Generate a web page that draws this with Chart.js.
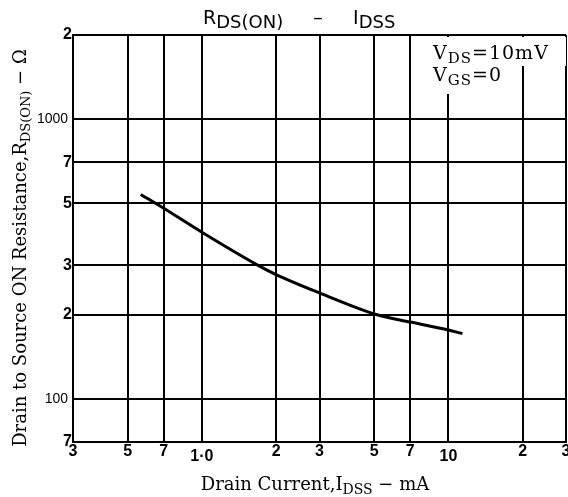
<!DOCTYPE html>
<html>
<head>
<meta charset="utf-8">
<script src="https://cdn.jsdelivr.net/npm/chart.js@4/dist/chart.umd.min.js"></script>
<style>
  html, body { margin: 0; padding: 0; background: #fff; }
  canvas { display: block; }
</style>
</head>
<body>
<canvas id="chart" width="568" height="497"></canvas>
<script>
// curve: drain current (mA) vs R_DS(ON) (ohm)
const currentMA = [0.565, 0.7, 1.0, 1.69, 2, 3, 5.1, 7, 10, 11.4];
const resistance = [538, 480, 394, 300, 278, 239, 200, 188, 176, 171];

// axis ticks as printed on the sheet
const xTickValues = [0.3, 0.5, 0.7, 1, 2, 3, 5, 7, 10, 20, 30];
const xTickLabels = ['3', '5', '7', '1·0', '2', '3', '5', '7', '10', '2', '3'];
const yTickValues = [70, 100, 200, 300, 500, 700, 1000, 2000];
const yTickLabels = ['7', '100 ', '2', '3', '5', '7', '1000 ', '2'];

// draw a line of text with subscript pieces, returns its width
function richWidth(ctx, parts, size, subSize, family) {
    let w = 0;
    parts.forEach((p) => {
        ctx.font = (p.sub ? subSize : size) + 'px ' + family;
        w += ctx.measureText(p.t).width;
    });
    return w;
}

function drawRich(ctx, parts, x, y, size, subSize, subDrop, family) {
    ctx.textAlign = 'left';
    ctx.textBaseline = 'alphabetic';
    parts.forEach((p) => {
        ctx.font = (p.sub ? subSize : size) + 'px ' + family;
        ctx.fillText(p.t, x, p.sub ? y + subDrop : y);
        x += ctx.measureText(p.t).width;
    });
}

const textPlugin = {
    id: 'sheetText',
    afterDraw(chart) {
        const ctx = chart.ctx;
        ctx.save();
        ctx.fillStyle = '#000';

        // title
        const title = [{t: 'R'}, {t: 'DS(ON)', sub: true}, {t: '     –     '}, {t: 'I'}, {t: 'DSS', sub: true}];
        drawRich(ctx, title, 203, 24, 19, 18, 4, '"DejaVu Sans"');

        // x axis title
        const xTitle = [{t: 'Drain Current,I'}, {t: 'DSS', sub: true}, {t: ' − mA'}];
        const xw = richWidth(ctx, xTitle, 18, 14, '"DejaVu Serif"');
        drawRich(ctx, xTitle, 315 - xw / 2, 490, 18, 14, 4, '"DejaVu Serif"');

        // y axis title
        const yTitle = [{t: 'Drain to Source ON Resistance,R'}, {t: 'DS(ON)', sub: true}, {t: ' − Ω'}];
        const yw = richWidth(ctx, yTitle, 18, 13, '"DejaVu Serif"');
        ctx.save();
        ctx.translate(26, 248);
        ctx.rotate(-Math.PI / 2);
        drawRich(ctx, yTitle, -yw / 2, 0, 18, 13, 4, '"DejaVu Serif"');
        ctx.restore();

        // condition box
        ctx.fillStyle = '#fff';
        ctx.fillRect(429, 37, 137, 29);
        ctx.fillRect(429, 66, 90, 28);
        ctx.fillStyle = '#000';
        ctx.letterSpacing = '1px';
        drawRich(ctx, [{t: 'V'}, {t: 'DS', sub: true}, {t: '=10mV'}], 433, 59, 19, 15, 4, '"DejaVu Serif"');
        drawRich(ctx, [{t: 'V'}, {t: 'GS', sub: true}, {t: '=0'}], 433, 81, 19, 15, 4, '"DejaVu Serif"');
        ctx.letterSpacing = '0px';
        ctx.restore();
    }
};

const ctx = document.getElementById('chart');
const chart = new Chart(ctx, {
    type: 'scatter',
    data: {
        datasets: [
            {
                data: currentMA.map((x, i) => ({x: x, y: resistance[i]})),
                showLine: true,
                borderColor: '#000',
                borderWidth: 3,
                pointRadius: 0,
                cubicInterpolationMode: 'monotone',
                fill: false,
            },
        ],
    },
    options: {
        responsive: false,
        animation: false,
        layout: { padding: { top: 35, right: 2, left: 0, bottom: 0 } },
        plugins: {
            legend: { display: false },
            tooltip: { enabled: false },
        },
        scales: {
            x: {
                type: 'logarithmic',
                min: 0.3,
                max: 30,
                afterBuildTicks: (scale) => {
                    scale.ticks = xTickValues.map((v) => ({ value: v }));
                },
                afterFit: (scale) => {
                    scale.height = 55;
                    scale.paddingLeft = 0;
                    scale.paddingRight = 0;
                },
                grid: { color: '#000', lineWidth: 2, drawTicks: false },
                border: { color: '#000', width: 2 },
                ticks: {
                    autoSkip: false,
                    maxRotation: 0,
                    padding: 1,
                    color: '#000',
                    font: (c) => {
                        const low = c.index === 3 || c.index === 8;
                        return { family: '"Liberation Sans"', size: 16, weight: 'bold', lineHeight: low ? '28px' : '18px' };
                    },
                    callback: (value, index) => xTickLabels[index],
                },
            },
            y: {
                type: 'logarithmic',
                min: 70,
                max: 2000,
                afterBuildTicks: (scale) => {
                    scale.ticks = yTickValues.map((v) => ({ value: v }));
                },
                afterFit: (scale) => {
                    scale.width = 73;
                    scale.paddingTop = 0;
                    scale.paddingBottom = 0;
                },
                grid: { color: '#000', lineWidth: 2, drawTicks: false },
                border: { color: '#000', width: 2 },
                ticks: {
                    autoSkip: false,
                    padding: 1,
                    color: '#000',
                    font: (c) => {
                        const big = yTickValues[c.index] === 100 || yTickValues[c.index] === 1000;
                        return big
                            ? { family: '"Liberation Sans"', size: 14, weight: 'normal' }
                            : { family: '"Liberation Sans"', size: 16, weight: 'bold' };
                    },
                    callback: (value, index) => yTickLabels[index],
                },
            },
        },
    },
    plugins: [textPlugin],
});
</script>
</body>
</html>
